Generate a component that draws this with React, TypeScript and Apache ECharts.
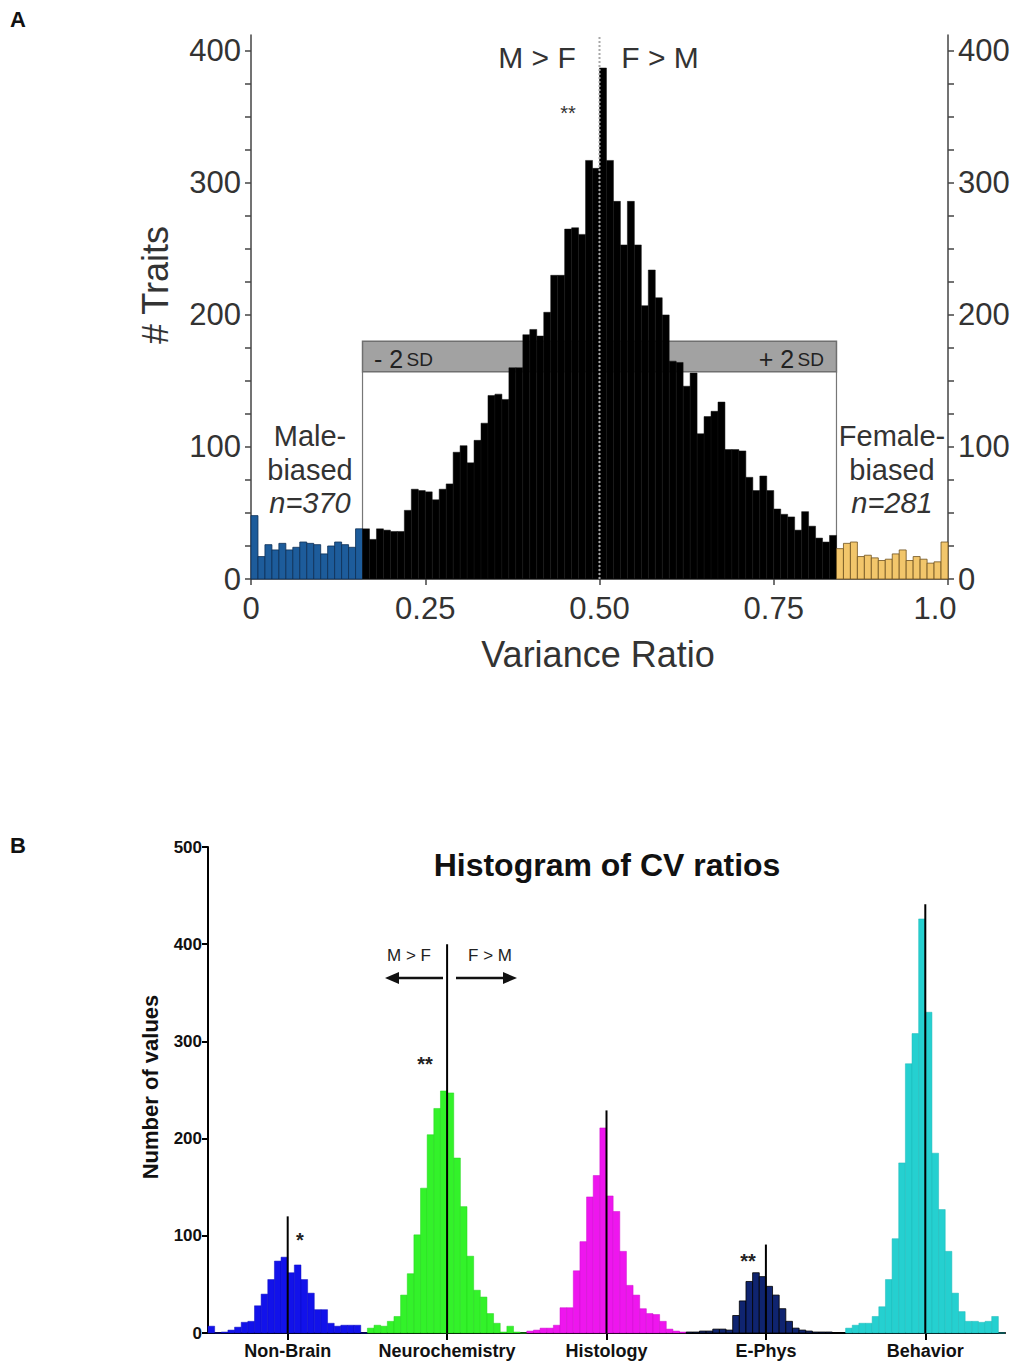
import React, { useEffect, useRef } from 'react';
import * as echarts from 'echarts';

// ---------- Panel A data (100 bins of width 0.01 over the variance ratio 0..1) ----------
const aBinWidth = 0.01;
const aMaleBiased = [48, 17, 26, 22, 27, 22, 24, 28, 27, 26, 19, 25, 28, 26, 24, 38];
const aCentral = [
  38, 30, 38, 37, 36, 36, 52, 68, 67, 66, 60, 68, 72,
  96, 101, 88, 105, 118, 139, 140, 136, 160, 160, 185, 189, 184, 202, 230, 230, 265, 266, 261, 317, 311, 387,
  317, 286, 253, 286, 253, 207, 234, 213, 200, 165, 164, 146, 156, 110, 123, 127, 134, 98, 98, 97, 77, 67,
  78, 67, 53, 49, 47, 37, 51, 40, 31, 28, 33,
];
const aFemaleBiased = [23, 27, 28, 17, 18, 16, 14, 15, 19, 22, 14, 17, 15, 12, 13, 28];
const aXTicks = [0, 0.25, 0.5, 0.75, 1];
const aYLabels = [0, 100, 200, 300, 400];
const aYTicks = [0, 25, 50, 75, 100, 125, 150, 175, 200, 225, 250, 275, 300, 325, 350, 375, 400];
const aYMax = 412;
const aSdBox = [0.16, 0.84, 157, 180]; // x from, x to, y bottom, y top
const aMidline = 0.5;

// ---------- Panel B data (24 bins per category) ----------
const bCategories = ['Non-Brain', 'Neurochemistry', 'Histology', 'E-Phys', 'Behavior'];
const bNonBrain = [7, 0, 1, 3, 6, 11, 12, 28, 40, 55, 74, 78, 62, 70, 55, 41, 24, 24, 10, 7, 8, 8, 8, 0];
const bNeuro = [5, 8, 7, 12, 17, 39, 61, 101, 149, 204, 231, 249, 247, 180, 130, 79, 44, 37, 20, 10, 1, 7, 1, 0];
const bHisto = [2, 3, 5, 5, 8, 26, 26, 64, 94, 140, 162, 211, 141, 125, 84, 49, 39, 25, 20, 19, 12, 4, 2, 1];
const bEPhys = [1, 1, 2, 2, 4, 4, 3, 18, 33, 53, 62, 58, 48, 39, 25, 12, 5, 3, 2, 1, 1, 1, 0, 0];
const bBehavior = [5, 8, 10, 10, 17, 27, 55, 97, 175, 277, 308, 426, 330, 185, 127, 84, 41, 22, 12, 12, 11, 12, 17, 0];
const bLineTops = [120, 400, 229, 91, 441];
const bYTicks = [0, 100, 200, 300, 400, 500];

const FONT = 'Liberation Sans, Arial, Helvetica, sans-serif';

function barRender(fill: string, stroke: string, lw: number) {
  return (params: any, api: any) => {
    const p0 = api.coord([api.value(0), api.value(2)]);
    const p1 = api.coord([api.value(1), 0]);
    return {
      type: 'rect',
      shape: { x: p0[0], y: p0[1], width: p1[0] - p0[0], height: p1[1] - p0[1] },
      style: { fill, stroke, lineWidth: lw },
    };
  };
}

function vLineRender(color: string, width: number, dash?: number[]) {
  return (params: any, api: any) => {
    const p0 = api.coord([api.value(0), 0]);
    const p1 = api.coord([api.value(0), api.value(1)]);
    return {
      type: 'line',
      shape: { x1: p0[0], y1: p0[1], x2: p1[0], y2: p1[1] },
      style: { stroke: color, lineWidth: width, lineDash: dash || null },
    };
  };
}

function aSeries(values: number[], offset: number, fill: string, stroke: string, lw: number) {
  return {
    type: 'custom',
    xAxisIndex: 0,
    yAxisIndex: 0,
    renderItem: barRender(fill, stroke, lw),
    encode: { x: [0, 1], y: 2 },
    data: values.map((v, i) => [(offset + i) * aBinWidth, (offset + i + 1) * aBinWidth, v]),
    z: 3,
  };
}

function bSeries(values: number[], k: number, fill: string, stroke: string, lw: number) {
  const n = values.length;
  return {
    type: 'custom',
    xAxisIndex: 1,
    yAxisIndex: 2,
    renderItem: barRender(fill, stroke, lw),
    encode: { x: [0, 1], y: 2 },
    data: values.map((v, j) => [k + j / n, k + (j + 1) / n, v]),
    z: 3,
  };
}

const txt = (text: string, x: number, y: number, size: number, extra: any = {}) => ({
  type: 'text',
  x,
  y,
  rotation: extra.rotation || 0,
  style: {
    text,
    fontSize: size,
    fontFamily: FONT,
    fill: extra.fill || '#333',
    fontWeight: extra.weight || 'normal',
    fontStyle: extra.italic ? 'italic' : 'normal',
    align: extra.align || 'center',
    verticalAlign: 'middle',
  },
  z: 10,
});

const option: any = {
  animation: false,
  backgroundColor: '#fff',
  grid: [
    { left: 251, top: 35, width: 697, height: 544 },
    { left: 208, top: 847, width: 797, height: 486 },
  ],
  xAxis: [
    {
      gridIndex: 0,
      type: 'value',
      min: 0,
      max: 1,
      axisLine: { lineStyle: { color: '#444', width: 1.5 } },
      axisTick: { show: true, customValues: aXTicks, length: 6, lineStyle: { color: '#444', width: 1.5 } },
      axisLabel: {
        customValues: aXTicks,
        fontSize: 31,
        color: '#333',
        fontFamily: FONT,
        margin: 14,
        formatter: (v: number) => (v === 0 ? '0' : v === 1 ? '{r|1.0}' : v.toFixed(2)),
        rich: { r: { fontSize: 31, color: '#333', fontFamily: FONT, padding: [0, 26, 0, 0] } },
      },
      splitLine: { show: false },
    },
    {
      gridIndex: 1,
      type: 'value',
      min: 0,
      max: 5,
      axisLine: { lineStyle: { color: '#000', width: 2 } },
      axisTick: { show: true, customValues: bCategories.map((_, k) => k + 0.5), length: 7, lineStyle: { color: '#000', width: 2 } },
      axisLabel: {
        customValues: bCategories.map((_, k) => k + 0.5),
        formatter: (v: number) => bCategories[Math.floor(v)],
        fontSize: 18,
        fontWeight: 'bold',
        color: '#111',
        fontFamily: FONT,
        margin: 9,
      },
      splitLine: { show: false },
    },
  ],
  yAxis: [
    {
      gridIndex: 0,
      type: 'value',
      position: 'left',
      min: 0,
      max: aYMax,
      axisLine: { show: true, lineStyle: { color: '#444', width: 1.5 } },
      axisTick: { show: true, customValues: aYTicks, length: 6, lineStyle: { color: '#444', width: 1.5 } },
      axisLabel: { customValues: aYLabels, fontSize: 31, color: '#333', fontFamily: FONT, margin: 10 },
      splitLine: { show: false },
    },
    {
      gridIndex: 0,
      type: 'value',
      position: 'right',
      min: 0,
      max: aYMax,
      axisLine: { show: true, lineStyle: { color: '#444', width: 1.5 } },
      axisTick: { show: true, customValues: aYTicks, length: 6, lineStyle: { color: '#444', width: 1.5 } },
      axisLabel: { customValues: aYLabels, fontSize: 31, color: '#333', fontFamily: FONT, margin: 10 },
      splitLine: { show: false },
    },
    {
      gridIndex: 1,
      type: 'value',
      min: 0,
      max: 500,
      interval: 100,
      axisLine: { show: true, lineStyle: { color: '#000', width: 2 } },
      axisTick: { show: true, customValues: bYTicks, length: 6, lineStyle: { color: '#000', width: 2 } },
      axisLabel: { fontSize: 17, fontWeight: 'bold', color: '#111', fontFamily: FONT, margin: 6 },
      splitLine: { show: false },
    },
  ],
  series: [
    // ±2 SD box behind the bars
    {
      type: 'custom',
      xAxisIndex: 0,
      yAxisIndex: 0,
      z: 1,
      encode: { x: [0, 1], y: [2, 3] },
      data: [aSdBox],
      renderItem: (params: any, api: any) => {
        const x0 = api.value(0), x1 = api.value(1), yb = api.value(2), yt = api.value(3);
        const tl = api.coord([x0, yt]);
        const br = api.coord([x1, yb]);
        const bl0 = api.coord([x0, 0]);
        const br0 = api.coord([x1, 0]);
        return {
          type: 'group',
          children: [
            { type: 'line', shape: { x1: tl[0], y1: br[1], x2: bl0[0], y2: bl0[1] }, style: { stroke: '#777', lineWidth: 1.2 } },
            { type: 'line', shape: { x1: br[0], y1: br[1], x2: br0[0], y2: br0[1] }, style: { stroke: '#777', lineWidth: 1.2 } },
            {
              type: 'rect',
              shape: { x: tl[0], y: tl[1], width: br[0] - tl[0], height: br[1] - tl[1] },
              style: { fill: '#a2a2a2', stroke: '#6f6f6f', lineWidth: 1.5 },
            },
          ],
        };
      },
    },
    aSeries(aMaleBiased, 0, '#1d5c9b', '#0c2f55', 0.8),
    aSeries(aCentral, aMaleBiased.length, '#000000', '#111111', 0.5),
    aSeries(aFemaleBiased, aMaleBiased.length + aCentral.length, '#f2c66b', '#6e5220', 0.8),
    {
      type: 'custom',
      xAxisIndex: 0,
      yAxisIndex: 0,
      z: 5,
      encode: { x: 0, y: 1 },
      data: [[aMidline, aYMax]],
      renderItem: vLineRender('#a8a8a8', 2, [2, 2]),
    },
    bSeries(bNonBrain, 0, '#1212ea', '#0c0cc0', 0.5),
    bSeries(bNeuro, 1, '#33f22a', '#22d41c', 0.5),
    bSeries(bHisto, 2, '#ee16ee', '#cc0ccc', 0.5),
    bSeries(bEPhys, 3, '#0f2470', '#000000', 0.8),
    bSeries(bBehavior, 4, '#25d0d0', '#1cb8b8', 0.5),
    {
      type: 'custom',
      xAxisIndex: 1,
      yAxisIndex: 2,
      z: 6,
      encode: { x: 0, y: 1 },
      data: bLineTops.map((t, k) => [k + 0.5, t]),
      renderItem: vLineRender('#000', 2),
    },
  ],
  graphic: [
    txt('A', 18, 19, 22, { weight: 'bold', fill: '#111' }),
    txt('B', 18, 845, 22, { weight: 'bold', fill: '#111' }),
    txt('# Traits', 155, 285, 36, { rotation: Math.PI / 2 }),
    txt('Variance Ratio', 598, 654, 36),
    txt('M > F', 537, 57, 30),
    txt('F > M', 660, 57, 30),
    txt('**', 568, 113, 20),
    txt('Male-', 310, 436, 29),
    txt('biased', 310, 470, 29),
    txt('n=370', 310, 503, 29, { italic: true }),
    txt('Female-', 892, 436, 29),
    txt('biased', 892, 470, 29),
    txt('n=281', 892, 503, 29, { italic: true }),
    {
      type: 'text',
      x: 374,
      y: 359,
      z: 10,
      style: {
        text: '{a|- 2} {b|SD}',
        verticalAlign: 'middle',
        align: 'left',
        rich: {
          a: { fontSize: 25, fontFamily: FONT, fill: '#222' },
          b: { fontSize: 19, fontFamily: FONT, fill: '#222' },
        },
      },
    },
    {
      type: 'text',
      x: 824,
      y: 359,
      z: 10,
      style: {
        text: '{a|+ 2} {b|SD}',
        verticalAlign: 'middle',
        align: 'right',
        rich: {
          a: { fontSize: 25, fontFamily: FONT, fill: '#222' },
          b: { fontSize: 19, fontFamily: FONT, fill: '#222' },
        },
      },
    },
    txt('Histogram of CV ratios', 607, 865, 32, { weight: 'bold', fill: '#111' }),
    txt('Number of values', 150, 1087, 22, { weight: 'bold', fill: '#111', rotation: Math.PI / 2 }),
    txt('*', 300, 1240, 20, { weight: 'bold', fill: '#222' }),
    txt('**', 425, 1064, 20, { weight: 'bold', fill: '#222' }),
    txt('**', 748, 1261, 20, { weight: 'bold', fill: '#222' }),
    txt('M > F', 409, 955, 17, { fill: '#222' }),
    txt('F > M', 490, 955, 17, { fill: '#222' }),
    { type: 'line', z: 10, shape: { x1: 443, y1: 978, x2: 396, y2: 978 }, style: { stroke: '#111', lineWidth: 2.5 } },
    { type: 'polygon', z: 10, shape: { points: [[385, 978], [399, 972], [399, 984]] }, style: { fill: '#111' } },
    { type: 'line', z: 10, shape: { x1: 456, y1: 978, x2: 506, y2: 978 }, style: { stroke: '#111', lineWidth: 2.5 } },
    { type: 'polygon', z: 10, shape: { points: [[517, 978], [503, 972], [503, 984]] }, style: { fill: '#111' } },
  ],
};

export default function App() {
  const ref = useRef<HTMLDivElement>(null);
  useEffect(() => {
    const chart = echarts.init(ref.current as HTMLDivElement, null, { renderer: 'svg' });
    chart.setOption(option);
    return () => chart.dispose();
  }, []);
  return (
    <div
      ref={ref}
      style={{ position: 'absolute', left: 0, top: 0, width: 1015, height: 1365, background: '#fff' }}
    />
  );
}
